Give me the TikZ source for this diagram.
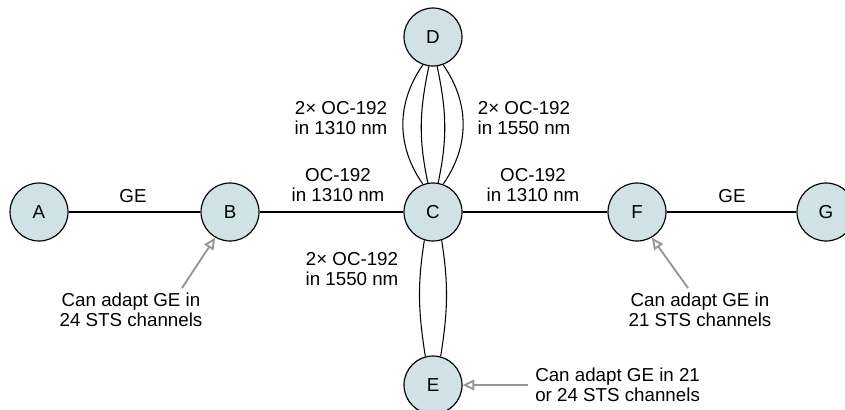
\documentclass[tikz,border=0pt]{standalone}
\usepackage{fontspec}
\setmainfont{Liberation Sans}
\usetikzlibrary{
  positioning,
  arrows.meta,
  calc,
  }
\definecolor{sitefill}{RGB}{208,226,230}
\definecolor{notegray}{RGB}{150,150,150}

\begin{document}
\begin{tikzpicture}[x=0.03cm, y=0.03cm,
                every node/.style={font=\fontsize{16}{17}\selectfont},
                site/.style={circle, draw, line width=1pt, fill=sitefill, minimum size=1.74cm, inner sep=0pt},
                link/.style={line width=0.9pt},
                txt/.style={align=center, inner sep=1pt},
                note/.style={draw=notegray, line width=1.6pt, -{Triangle[open, length=10pt, width=9pt]}}]
                \useasboundingbox (0,0) rectangle (845,-409);

                \node[site] (A) at (39,-212) {A};
                \node[site] (B) at (230,-212) {B};
                \node[site] (C) at (433,-212) {C};
                \node[site] (F) at (637,-212) {F};
                \node[site] (G) at (826,-212) {G};
                \node[site] (D) at (433,-37) {D};
                \node[site] (E) at (433,-385) {E};

                \draw[link] (A) -- (B);
                \draw[link] (B) -- (C);
                \draw[link] (C) -- (F);
                \draw[link] (F) -- (G);

                \draw[link] (D.250) to[out=235,in=125] (C.110);
                \draw[link] (D.262) to[out=258,in=102] (C.100);
                \draw[link] (D.278) to[out=282,in=78] (C.80);
                \draw[link] (D.290) to[out=305,in=55] (C.70);

                \draw[link] (C.253) to[out=261,in=99] (E.105);
                \draw[link] (C.287) to[out=279,in=81] (E.75);

                \node[txt] (geAB) at (133,-196) {GE};
                \node[txt] (geFG) at (732,-196) {GE};
                \node[txt] (ocBC) at (338,-185) {OC-192\\in 1310 nm};
                \node[txt] (ocCF) at (533,-185) {OC-192\\in 1310 nm};
                \node[txt] (ocCDl) at (341,-118) {2× OC-192\\in 1310 nm};
                \node[txt] (ocCDr) at (524,-118) {2× OC-192\\in 1550 nm};
                \node[txt] (ocCE) at (352,-269) {2× OC-192\\in 1550 nm};

                \node[txt] (capB) at (131,-310) {Can adapt GE in\\24 STS channels};
                \node[txt] (capF) at (700,-310) {Can adapt GE in\\21 STS channels};
                \node[txt, align=left, anchor=west, inner sep=6pt] (capE) at (528,-385) {Can adapt GE in 21\\or 24 STS channels};

                \coordinate (tailB) at (182,-288);
                \coordinate (tailF) at (688,-288);
                \draw[note] (tailB) -- (B.240);
                \draw[note] (tailF) -- (F.300);
                \draw[note] (capE.west) -- (E.east);
\end{tikzpicture}
\end{document}
